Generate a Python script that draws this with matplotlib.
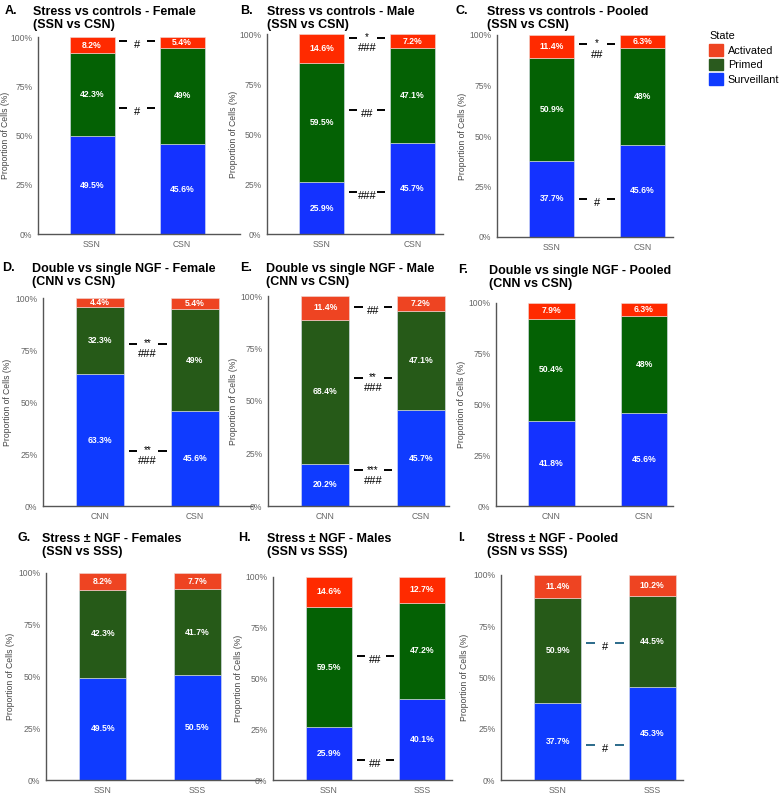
import numpy as np
import matplotlib
matplotlib.use("Agg")
import matplotlib.pyplot as plt
from matplotlib.patches import Patch

plt.rcParams['font.family'] = ['Liberation Sans', 'DejaVu Sans']

# ---- data ----
letters = ["A.", "B.", "C.", "D.", "E.", "F.", "G.", "H.", "I."]
titles = ["Stress vs controls - Female\n(SSN vs CSN)",
          "Stress vs controls - Male\n(SSN vs CSN)",
          "Stress vs controls - Pooled\n(SSN vs CSN)",
          "Double vs single NGF - Female\n(CNN vs CSN)",
          "Double vs single NGF - Male\n(CNN vs CSN)",
          "Double vs single NGF - Pooled\n(CNN vs CSN)",
          "Stress \u00b1 NGF - Females\n(SSN vs SSS)",
          "Stress \u00b1 NGF - Males\n(SSN vs SSS)",
          "Stress \u00b1 NGF - Pooled\n(SSN vs SSS)"]
groups = [["SSN", "CSN"], ["SSN", "CSN"], ["SSN", "CSN"],
          ["CNN", "CSN"], ["CNN", "CSN"], ["CNN", "CSN"],
          ["SSN", "SSS"], ["SSN", "SSS"], ["SSN", "SSS"]]
surveillant = [[49.5, 45.6], [25.9, 45.7], [37.7, 45.6],
               [63.3, 45.6], [20.2, 45.7], [41.8, 45.6],
               [49.5, 50.5], [25.9, 40.1], [37.7, 45.3]]
primed = [[42.3, 49], [59.5, 47.1], [50.9, 48],
          [32.3, 49], [68.4, 47.1], [50.4, 48],
          [42.3, 41.7], [59.5, 47.2], [50.9, 44.5]]
activated = [[8.2, 5.4], [14.6, 7.2], [11.4, 6.3],
             [4.4, 5.4], [11.4, 7.2], [7.9, 6.3],
             [8.2, 7.7], [14.6, 12.7], [11.4, 10.2]]
# significance marks: (height %, text above line, text below line)
signif = [[(98, "", "#"), (64, "", "#")],
          [(98, "*", "###"), (62, "", "##"), (21, "", "###")],
          [(95.5, "*", "##"), (19, "", "#")],
          [(78, "**", "###"), (26.5, "**", "###")],
          [(95, "", "##"), (61, "**", "###"), (17, "***", "###")],
          [],
          [],
          [(61, "", "##"), (10, "", "##")],
          [(67, "", "#"), (17, "", "#")]]

# ---- styling / layout (pixels of a 779x797 canvas) ----
W, H = 779, 797
bright = ("#ff2a00", "#046104", "#1432ff")
muted = ("#ee4422", "#265a18", "#0f3bff")
palettes = [bright, bright, bright, muted, muted, bright, muted, bright, muted]
line_colors = ["black"] * 8 + ["#2b6a8a"]
# spine x, y of 100%, y of 0%, px per bar step, axis overhang past last bar
geom = [(38, 37, 234, 90, 0.64), (267, 34, 234, 91, 0.33), (497, 35, 237, 91, 0.33),
        (43, 298, 506, 95, 0.6), (268, 296, 506, 95.5, 0.3), (496, 303, 506, 92.5, 0.31),
        (46, 573, 780, 94.5, 0.67), (273, 577, 780, 93, 0.33), (501, 575, 780, 94.5, 0.33)]
# letter x, title x, first title line y
title_pos = [(5, 33, 11), (240, 267, 11), (455, 487, 11),
             (2, 32, 268), (240, 266, 268), (458, 489, 270),
             (17, 42, 538), (238, 267, 538), (458, 487, 538)]
# right edge of the rotated y label
ylabel_x = [10, 238, 467, 12, 238, 466, 15, 243, 469]

fig = plt.figure(figsize=(W / 100, H / 100), dpi=100)

for i in range(9):
    sx, y100, y0, step, xr = geom[i]
    width_px = step * (1.6 + xr)
    ax = fig.add_axes([sx / W, (H - y0) / H, width_px / W, (y0 - y100) / H])
    red, green, blue = palettes[i]
    x = np.arange(2)
    s = np.array(surveillant[i])
    p = np.array(primed[i])
    a = np.array(activated[i])
    ax.bar(x, s, 0.5, color=blue, edgecolor="#dde3f0", linewidth=0.4)
    ax.bar(x, p, 0.5, bottom=s, color=green, edgecolor="#dde3f0", linewidth=0.4)
    ax.bar(x, a, 0.5, bottom=s + p, color=red, edgecolor="#f0dcd8", linewidth=0.4)
    for j in range(2):
        for val, base in [(s[j], 0), (p[j], s[j]), (a[j], s[j] + p[j])]:
            ax.text(x[j], base + val / 2, f"{val:g}%", ha="center", va="center",
                    color="white", fontsize=6.2, fontweight="bold")

    for y, top, bot in signif[i]:
        for x0, x1 in [(0.3, 0.39), (0.61, 0.7)]:
            ax.plot([x0, x1], [y, y], color=line_colors[i], lw=1.4, solid_capstyle="butt")
        if top:
            ax.annotate(top, (0.5, y), xytext=(0, 0.5), textcoords="offset points",
                        ha="center", va="center", fontsize=7)
            ax.annotate(bot, (0.5, y), xytext=(0, -7.5), textcoords="offset points",
                        ha="center", va="center", fontsize=8)
        else:
            ax.annotate(bot, (0.5, y), xytext=(0, -3), textcoords="offset points",
                        ha="center", va="center", fontsize=8)

    ax.set_xlim(-0.6, 1 + xr)
    ax.set_ylim(0, 100)
    ax.set_xticks(x)
    ax.set_xticklabels(groups[i])
    ax.set_yticks([0, 25, 50, 75, 100])
    ax.set_yticklabels(["0%", "25%", "50%", "75%", "100%"])
    ax.tick_params(length=0, labelsize=6.2, labelcolor="#666666", pad=4)
    for side in ["top", "right"]:
        ax.spines[side].set_visible(False)
    for side in ["left", "bottom"]:
        ax.spines[side].set_color("#555555")
        ax.spines[side].set_linewidth(1)
    ax.set_ylabel("Proportion of Cells (%)", fontsize=6.2, color="#444444")
    ax.yaxis.set_label_coords((ylabel_x[i] - sx) / width_px, 0.5)

    lx, tx, ty = title_pos[i]
    fig.text(lx / W, 1 - ty / H, letters[i], fontsize=9, fontweight="bold", va="center")
    fig.text(tx / W, 1 - (ty + 7.5) / H, titles[i], fontsize=9, fontweight="bold",
             va="center", linespacing=1.2)

handles = [Patch(color=muted[0]), Patch(color="#2a5a1e"), Patch(color=muted[2])]
fig.legend(handles, ["Activated", "Primed", "Surveillant"], title="State",
           loc="upper left", bbox_to_anchor=(705 / W, 1 - 27 / H), frameon=False,
           fontsize=7.8, title_fontsize=7.8, handlelength=1.3, handleheight=1.3,
           handletextpad=0.4, labelspacing=0.25, alignment="left", borderaxespad=0)

fig.savefig("out.png", dpi=100)
